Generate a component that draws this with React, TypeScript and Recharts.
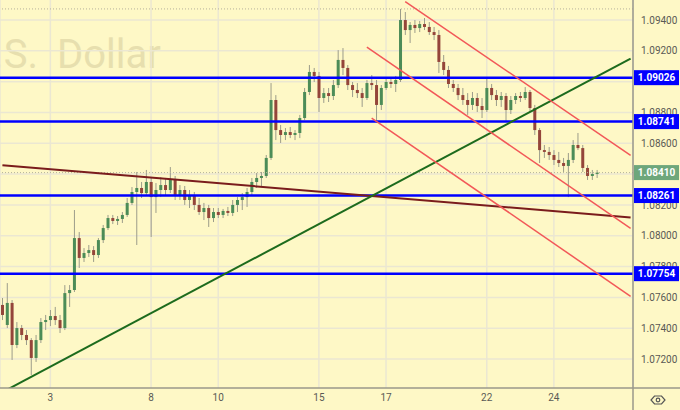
import React from 'react';
import { ComposedChart, Bar, XAxis, YAxis, CartesianGrid, ReferenceLine } from 'recharts';

// hourly-ish candles, [open, high, low, close]
const candles: number[][] = [
  [1.07551, 1.07596, 1.07453, 1.07486], [1.07421, 1.07693, 1.07401, 1.07564], [1.07564, 1.07583, 1.07194, 1.07291],
  [1.07291, 1.0744, 1.07271, 1.07401], [1.07401, 1.07421, 1.07323, 1.07356], [1.07356, 1.07388, 1.07291, 1.07323],
  [1.07323, 1.07336, 1.07096, 1.07207], [1.07207, 1.07356, 1.07181, 1.07323], [1.07323, 1.07466, 1.07304, 1.0744],
  [1.0744, 1.07486, 1.07388, 1.07453], [1.07453, 1.07518, 1.07414, 1.07479], [1.07479, 1.07538, 1.07421, 1.07453],
  [1.07453, 1.07486, 1.07369, 1.07401], [1.07401, 1.0768, 1.07388, 1.07628], [1.07628, 1.0768, 1.07538, 1.07648],
  [1.07648, 1.08167, 1.07635, 1.07985], [1.07985, 1.08024, 1.07791, 1.07856], [1.07856, 1.0792, 1.0783, 1.07888],
  [1.07888, 1.0794, 1.07862, 1.07907], [1.07907, 1.07933, 1.0783, 1.07875], [1.07875, 1.07985, 1.07856, 1.07972],
  [1.07972, 1.0807, 1.07953, 1.0805], [1.0805, 1.08135, 1.08037, 1.08115], [1.08115, 1.08135, 1.08076, 1.08096],
  [1.08096, 1.08128, 1.0807, 1.08109], [1.08109, 1.08154, 1.08083, 1.08135], [1.08135, 1.08245, 1.08122, 1.08213],
  [1.08213, 1.08316, 1.082, 1.08284], [1.08284, 1.08414, 1.0794, 1.0831], [1.0831, 1.08349, 1.08245, 1.08277],
  [1.08277, 1.08427, 1.08258, 1.08349], [1.08349, 1.08375, 1.07992, 1.08251], [1.08251, 1.08342, 1.08148, 1.08297],
  [1.08297, 1.08381, 1.08251, 1.08329], [1.08329, 1.08375, 1.08264, 1.08297], [1.08297, 1.08446, 1.08277, 1.08362],
  [1.08362, 1.08388, 1.08232, 1.08264], [1.08264, 1.08329, 1.08232, 1.08297], [1.08297, 1.08323, 1.082, 1.08232],
  [1.08232, 1.08297, 1.0818, 1.08258], [1.08258, 1.08284, 1.08167, 1.082], [1.082, 1.08245, 1.08135, 1.08154],
  [1.08154, 1.08213, 1.08102, 1.0818], [1.0818, 1.082, 1.08057, 1.08115], [1.08115, 1.0818, 1.08089, 1.08154],
  [1.08154, 1.0818, 1.08115, 1.08135], [1.08135, 1.08174, 1.08115, 1.08161], [1.08161, 1.08187, 1.08128, 1.08148],
  [1.08148, 1.08232, 1.08128, 1.082], [1.082, 1.08251, 1.08154, 1.08232], [1.08232, 1.08277, 1.08167, 1.08251],
  [1.08251, 1.0831, 1.08187, 1.08284], [1.08284, 1.08375, 1.08258, 1.08349], [1.08349, 1.08407, 1.0831, 1.08375],
  [1.08375, 1.08414, 1.08316, 1.08388], [1.08388, 1.08524, 1.08375, 1.08505], [1.08505, 1.08991, 1.08492, 1.08881],
  [1.08881, 1.08913, 1.08621, 1.08686], [1.08686, 1.08719, 1.08602, 1.08654], [1.08654, 1.08699, 1.08621, 1.08673],
  [1.08673, 1.08706, 1.08634, 1.08654], [1.08654, 1.08686, 1.08621, 1.08667], [1.08667, 1.08784, 1.08634, 1.08764],
  [1.08764, 1.08959, 1.08751, 1.08933], [1.08933, 1.09108, 1.08913, 1.09063], [1.09063, 1.09089, 1.08998, 1.09037],
  [1.09037, 1.09063, 1.08803, 1.08894], [1.08894, 1.08959, 1.08862, 1.08926], [1.08926, 1.08959, 1.08868, 1.08907],
  [1.08907, 1.09011, 1.08881, 1.08978], [1.08978, 1.09205, 1.08959, 1.09141], [1.09141, 1.09218, 1.09043, 1.09089],
  [1.09089, 1.09108, 1.08946, 1.08978], [1.08978, 1.08998, 1.089, 1.08946], [1.08946, 1.08991, 1.08894, 1.08926],
  [1.08926, 1.08959, 1.08836, 1.08894], [1.08894, 1.09011, 1.08881, 1.08991], [1.08991, 1.09043, 1.08946, 1.08978],
  [1.08978, 1.09011, 1.08732, 1.08849], [1.08849, 1.08978, 1.08816, 1.08959], [1.08959, 1.0903, 1.08946, 1.08998],
  [1.08998, 1.09024, 1.08959, 1.08985], [1.08985, 1.09037, 1.08933, 1.09011], [1.09011, 1.09472, 1.08998, 1.094],
  [1.094, 1.09452, 1.09303, 1.09335], [1.09335, 1.09387, 1.09251, 1.09368], [1.09368, 1.094, 1.09316, 1.09348],
  [1.09348, 1.09394, 1.09322, 1.09374], [1.09374, 1.09413, 1.09335, 1.09355], [1.09355, 1.09387, 1.09303, 1.09322],
  [1.09322, 1.09355, 1.0927, 1.09303], [1.09303, 1.09335, 1.09056, 1.09128], [1.09128, 1.09173, 1.09043, 1.09076],
  [1.09076, 1.09102, 1.08959, 1.08985], [1.08985, 1.09011, 1.08933, 1.08959], [1.08959, 1.08985, 1.08881, 1.08913],
  [1.08913, 1.08959, 1.08849, 1.08881], [1.08881, 1.08926, 1.08784, 1.08849], [1.08849, 1.08933, 1.08816, 1.08894],
  [1.08894, 1.08926, 1.08803, 1.08842], [1.08842, 1.08894, 1.08764, 1.08816], [1.08816, 1.09024, 1.08803, 1.08959],
  [1.08959, 1.08985, 1.08881, 1.08913], [1.08913, 1.08946, 1.08842, 1.08881], [1.08881, 1.08933, 1.08836, 1.08907],
  [1.08907, 1.08926, 1.08738, 1.08816], [1.08816, 1.08907, 1.0879, 1.08881], [1.08881, 1.08926, 1.08855, 1.08907],
  [1.08907, 1.08933, 1.08868, 1.08894], [1.08894, 1.08965, 1.08881, 1.08933], [1.08933, 1.08946, 1.08803, 1.08829],
  [1.08829, 1.08849, 1.08654, 1.08686], [1.08686, 1.08699, 1.08472, 1.08556], [1.08556, 1.08589, 1.08505, 1.08544],
  [1.08544, 1.08576, 1.08492, 1.08524], [1.08524, 1.08556, 1.08459, 1.08492], [1.08492, 1.08544, 1.08446, 1.08472],
  [1.08472, 1.08505, 1.08414, 1.08453], [1.08453, 1.08537, 1.08251, 1.08492], [1.08492, 1.08621, 1.08472, 1.08589],
  [1.08589, 1.08667, 1.08556, 1.08569], [1.08569, 1.08589, 1.08414, 1.0844], [1.0844, 1.08459, 1.08362, 1.08388],
  [1.08388, 1.08427, 1.08362, 1.08401], [1.08401, 1.08427, 1.08375, 1.0841],
];
const emptySlots = 7;

const dayTicks = [10, 31, 45, 66, 80, 101, 115];
const dayLabels = ['3', '8', '10', '15', '17', '22', '24'];
const priceTicks = [1.072, 1.074, 1.076, 1.078, 1.08, 1.082, 1.084, 1.086, 1.088, 1.09, 1.092, 1.094];

const levels = [1.09026, 1.08741, 1.08261, 1.07754];
const lastPrice = 1.0841;
const periodHigh = 1.09472;

// trend lines: [slot, price] pairs
const greenTrend = [[0, 1.06985], [131, 1.0915]];
const brownTrend = [[0, 1.08458], [131, 1.08118]];
const channelTrends = [
  [[84, 1.0952], [131, 1.08522]],
  [[76, 1.09224], [131, 1.08048]],
  [[77, 1.08764], [131, 1.07607]],
];

const data = [...candles.map((c, i) => ({ i, range: [c[2], c[1]], o: c[0], h: c[1], l: c[2], c: c[3] }))];
for (let k = 0; k < emptySlots; k++) data.push({ i: candles.length + k } as any);

const BG = '#fef8c6';
const FONT = 'Roboto, sans-serif';
const AXIS = '#9a988a';

const Candle = (props: any) => {
  const { x, y, width, height, payload } = props;
  if (!payload || payload.c == null || !height) return null;
  const k = height / (payload.h - payload.l);
  const yo = y + (payload.h - payload.o) * k;
  const yc = y + (payload.h - payload.c) * k;
  const up = payload.c >= payload.o;
  const cx = x + width / 2;
  return (
    <g>
      <line x1={cx} x2={cx} y1={y} y2={y + height} stroke="#9c9c8a" strokeWidth={1} />
      <rect x={x} y={Math.min(yo, yc)} width={width} height={Math.max(1, Math.abs(yc - yo))} fill={up ? '#4c8c57' : '#94453a'} />
    </g>
  );
};

// plain ticks first, tagged prices after so the boxes sit on top
const tagColor = (v: number) => (v === lastPrice ? '#6ea77b' : levels.includes(v) ? '#0000ff' : null);

const PriceTick = (props: any) => {
  const { y, payload } = props;
  const v = payload.value as number;
  const color = tagColor(v);
  const x0 = 634;
  if (color) {
    return (
      <g>
        <rect x={x0} y={y - 7.5} width={45} height={15} fill={color} />
        <text x={x0 + 22.5} y={y + 3.6} textAnchor="middle" fill="#fff" fontSize={10} fontWeight="bold" fontFamily={FONT}>
          {v.toFixed(5)}
        </text>
      </g>
    );
  }
  return (
    <text x={641} y={y + 3.6} textAnchor="start" fill="#5a5a55" fontSize={10} fontFamily={FONT}>
      {v.toFixed(5)}
    </text>
  );
};

const seg = (s: number[][]) => [{ x: s[0][0], y: s[0][1] }, { x: s[1][0], y: s[1][1] }] as any;

export default function App() {
  return (
    <div style={{ position: 'absolute', left: 0, top: 0, width: 680, height: 410, background: BG, overflow: 'hidden' }}>
      <svg width={680} height={410} style={{ position: 'absolute', left: 0, top: 0 }}>
        <text x={38} y={68} textAnchor="end" fontSize={40} fontFamily={FONT} fill="#e7dfae">U.S.</text>
        <text x={57} y={68} fontSize={40} fontFamily={FONT} fill="#e7dfae">Dollar</text>
      </svg>
      <div style={{ position: 'absolute', left: 0, top: 0 }}>
        <ComposedChart width={680} height={410} data={data} margin={{ top: 0, right: 0, bottom: 0, left: 0 }} barCategoryGap={0}>
          <CartesianGrid stroke="#ebe7d2" strokeWidth={1.5} horizontalValues={priceTicks} />
          <XAxis
            dataKey="i"
            ticks={dayTicks}
            interval={0}
            tickFormatter={(v: number) => dayLabels[dayTicks.indexOf(v)] ?? ''}
            height={22}
            tickLine={false}
            tickSize={4}
            axisLine={{ stroke: AXIS, strokeWidth: 1.5 }}
            tick={{ fontSize: 10, fill: '#5a5a55', fontFamily: FONT }}
          />
          <YAxis
            orientation="right"
            type="number"
            domain={[1.07012, 1.0953]}
            allowDataOverflow
            ticks={[...priceTicks, ...levels, lastPrice]}
            interval={0}
            width={47}
            tickLine={false}
            axisLine={{ stroke: AXIS, strokeWidth: 1.5 }}
            tick={<PriceTick />}
          />
          <Bar dataKey="range" barSize={3} shape={<Candle />} isAnimationActive={false} />
          <ReferenceLine y={periodHigh} stroke="#b5b29c" strokeDasharray="1 2" />
          <ReferenceLine y={lastPrice} stroke="#b5b29c" strokeDasharray="1 2" />
          {levels.map((v) => (
            <ReferenceLine key={v} y={v} stroke="#0000ff" strokeWidth={2.5} />
          ))}
          <ReferenceLine segment={seg(brownTrend)} stroke="#7a1c1c" strokeWidth={2} ifOverflow="hidden" />
          <ReferenceLine segment={seg(greenTrend)} stroke="#1d6b1d" strokeWidth={2} ifOverflow="hidden" />
          {channelTrends.map((s, k) => (
            <ReferenceLine key={k} segment={seg(s)} stroke="#f25858" strokeWidth={1.5} ifOverflow="hidden" />
          ))}
        </ComposedChart>
      </div>
      <svg width={680} height={410} style={{ position: 'absolute', left: 0, top: 0, pointerEvents: 'none' }}>
        <line x1={633} x2={680} y1={388} y2={388} stroke={AXIS} strokeWidth={1.5} />
        <line x1={633} x2={633} y1={388} y2={410} stroke={AXIS} strokeWidth={1.5} />
        <path d="M654.5 396 L661.5 396 L665 400 L661.5 404 L654.5 404 L651 400 Z" fill="none" stroke="#555" strokeWidth={1.2} />
        <circle cx={658} cy={400} r={1.8} fill="none" stroke="#555" strokeWidth={1.2} />
      </svg>
    </div>
  );
}
